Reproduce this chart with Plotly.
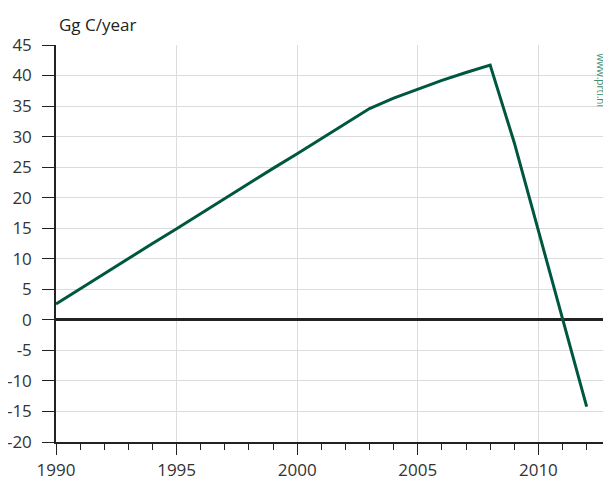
import plotly.graph_objects as go

years = list(range(1990, 2013))
emissions = [2.6, 5.1, 7.5, 10.0, 12.5, 14.9, 17.4, 19.8, 22.3, 24.8, 27.2, 29.7,
             32.1, 34.6, 36.3, 37.8, 39.2, 40.5, 41.7, 29.0, 14.6, 0.3, -14.2]

y_ticks = list(range(-20, 50, 5))
y_labels = ['-20', '-15', '-10', '-5', '0', '5', '10', '15', '20', '25', '30', '35', '40', '45']
x_ticks = [1990, 1995, 2000, 2005, 2010]

fig = go.Figure()

fig.add_trace(go.Scatter(
    x=years,
    y=emissions,
    mode='lines',
    line=dict(color='#00573f', width=3),
    showlegend=False,
    hoverinfo='skip'
))

# page body has an 8px margin, so the figure is 8px smaller than the window
fig.update_layout(
    width=603,
    height=474,
    margin=dict(l=48, r=0, t=37, b=40, autoexpand=False),
    plot_bgcolor='white',
    paper_bgcolor='white',
    font=dict(family='Open Sans', size=17, color='#333333'),
    annotations=[
        dict(text='Gg C/year', x=0, y=1, xref='paper', yref='paper',
             xanchor='left', yanchor='middle', yshift=21, xshift=1,
             showarrow=False, font=dict(size=17, color='#222222')),
        dict(text='www.prtl.nl', x=1, y=1, xref='paper', yref='paper',
             xanchor='right', yanchor='top', xshift=-1, yshift=-6,
             textangle=90, showarrow=False,
             font=dict(size=10, color='#3f8f76')),
    ],
)

fig.update_xaxes(
    range=[1990, 2013.01],
    tickvals=x_ticks,
    automargin=False,
    showgrid=True,
    gridcolor='#dcdcdc',
    gridwidth=1,
    zeroline=False,
    showline=True,
    linecolor='#222222',
    linewidth=1.5,
    ticks='outside',
    ticklen=11,
    tickcolor='#222222',
    ticklabelstandoff=1,
    minor=dict(dtick=1, ticks='outside', ticklen=6, tickcolor='#222222', showgrid=False),
)

fig.update_yaxes(
    range=[-20, 45],
    tickvals=y_ticks,
    ticktext=y_labels,
    automargin=False,
    showgrid=True,
    gridcolor='#dcdcdc',
    gridwidth=1,
    zeroline=True,
    zerolinecolor='#222222',
    zerolinewidth=3,
    showline=True,
    linecolor='#222222',
    linewidth=1.5,
    ticks='outside',
    ticklen=12,
    tickcolor='#222222',
    ticklabelstandoff=7,
)

fig.write_html("out.html")
